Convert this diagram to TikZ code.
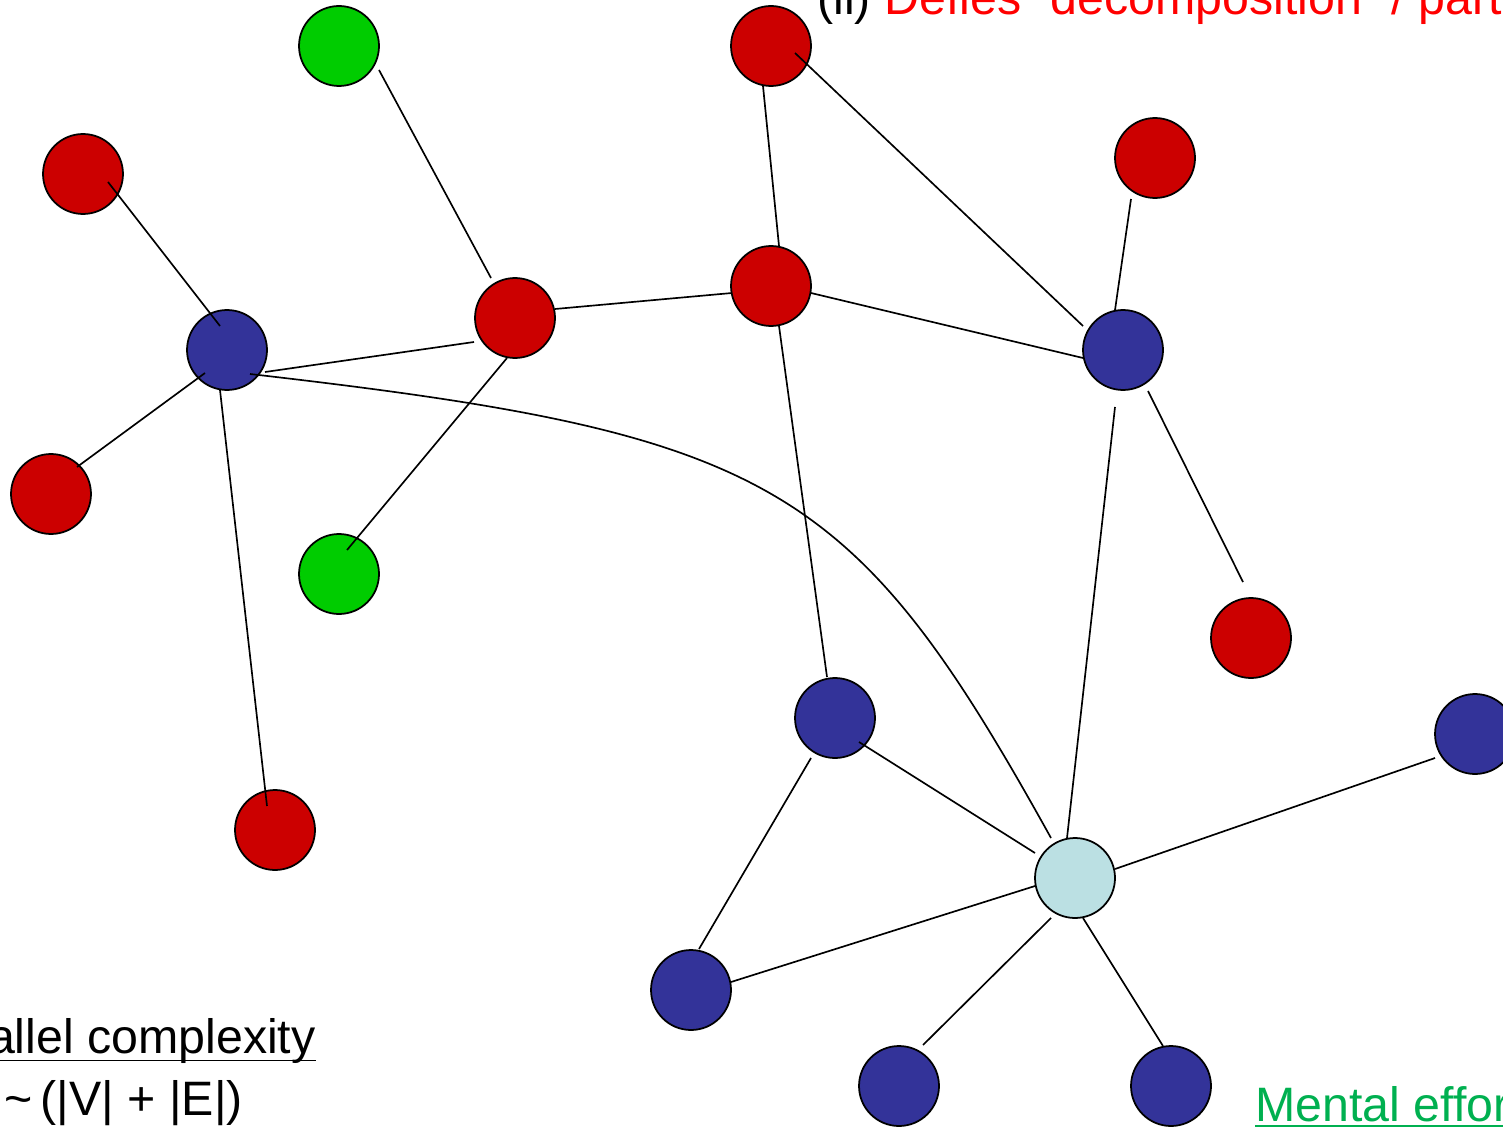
\documentclass[tikz,border=0pt]{standalone}
\usepackage{fontspec}
\setmainfont{Liberation Sans}
\usepackage{tikz}
\usetikzlibrary{positioning}
\definecolor{vx_red}{RGB}{204,0,0}
\definecolor{vx_green}{RGB}{0,204,0}
\definecolor{vx_blue}{RGB}{51,51,153}
\definecolor{vx_light}{RGB}{187,224,227}
\definecolor{txt_red}{RGB}{255,0,0}
\definecolor{txt_green}{RGB}{0,176,80}

\begin{document}
\begin{tikzpicture}[x=0.02cm, y=-0.02cm,
    vx/.style={circle, draw=black, line width=1pt, minimum size=1.6cm, inner sep=0pt},
    red vx/.style={vx, fill=vx_red},
    green vx/.style={vx, fill=vx_green},
    blue vx/.style={vx, fill=vx_blue},
    hub vx/.style={vx, fill=vx_light},
    edge/.style={line width=0.95pt},
    caption/.style={font=\fontsize{27.5}{33}\selectfont, inner sep=0pt}]
        \useasboundingbox (0,0) rectangle (1503,1128);
        \clip (0,0) rectangle (1503,1128);
        % Left cluster
        \node[green vx] (g1) at (339,46) {};
        \node[red vx] (r1) at (83,174) {};
        \node[blue vx] (b1) at (227,350) {};
        \node[red vx] (r2) at (51,494) {};
        \node[green vx] (g2) at (339,574) {};
        \node[red vx] (r3) at (275,830) {};
        \node[red vx] (r4) at (515,318) {};
        % Upper right
        \node[red vx] (r5) at (771,46) {};
        \node[red vx] (r6) at (771,286) {};
        \node[red vx] (r7) at (1155,158) {};
        \node[blue vx] (b2) at (1123,350) {};
        \node[red vx] (r8) at (1251,638) {};
        % Lower right, around the hub
        \node[blue vx] (b3) at (835,718) {};
        \node[blue vx] (b4) at (1475,734) {};
        \node[hub vx] (hub) at (1075,878) {};
        \node[blue vx] (b5) at (691,990) {};
        \node[blue vx] (b6) at (899,1086) {};
        \node[blue vx] (b7) at (1171,1086) {};
        % Edges (hand placed ends, some run into the discs)
        \draw[edge] ([shift={(25,8)}]r1.center) -- ([shift={(-7,-24)}]b1.center);
        \draw[edge] ([shift={(26,-27)}]r2.center) -- ([shift={(-22,23)}]b1.center);
        \draw[edge] ([shift={(-7,40)}]b1.center) -- ([shift={(-8,-24)}]r3.center);
        \draw[edge] ([shift={(38,22)}]b1.center) -- ([shift={(-41,24)}]r4.center);
        \draw[edge] ([shift={(23,24)}]b1.center)
          .. controls (773,434) and (853,481) .. ([shift={(-24,-40)}]hub.center);
        \draw[edge] ([shift={(40,24)}]g1.center) -- ([shift={(-24,-40)}]r4.center);
        \draw[edge] ([shift={(-8,40)}]r4.center) -- ([shift={(8,-24)}]g2.center);
        \draw[edge] ([shift={(40,-9)}]r4.center) -- ([shift={(-39,7)}]r6.center);
        \draw[edge] ([shift={(-8,40)}]r5.center) -- ([shift={(8,-40)}]r6.center);
        \draw[edge] ([shift={(24,7)}]r5.center) -- ([shift={(-40,-24)}]b2.center);
        \draw[edge] ([shift={(40,7)}]r6.center) -- ([shift={(-40,8)}]b2.center);
        \draw[edge] ([shift={(8,40)}]r6.center) -- ([shift={(-8,-41)}]b3.center);
        \draw[edge] ([shift={(-24,41)}]r7.center) -- ([shift={(-8,-40)}]b2.center);
        \draw[edge] ([shift={(25,41)}]b2.center) -- ([shift={(-8,-56)}]r8.center);
        \draw[edge] ([shift={(-8,57)}]b2.center) -- ([shift={(-8,-40)}]hub.center);
        \draw[edge] ([shift={(24,24)}]b3.center) -- ([shift={(-40,-25)}]hub.center);
        \draw[edge] ([shift={(-24,40)}]b3.center) -- ([shift={(8,-41)}]b5.center);
        \draw[edge] ([shift={(-40,24)}]b4.center) -- ([shift={(40,-9)}]hub.center);
        \draw[edge] ([shift={(40,-8)}]b5.center) -- ([shift={(-40,8)}]hub.center);
        \draw[edge] ([shift={(-24,40)}]hub.center) -- ([shift={(24,-41)}]b6.center);
        \draw[edge] ([shift={(8,40)}]hub.center) -- ([shift={(-8,-40)}]b7.center);
        % Slide text, cut by the frame
        \node[caption, anchor=base west] (title) at (817,15)
          {(ii) {\color{txt_red}Defies “decomposition” / partitioning}};
        \node[caption, anchor=base east] (pcx) at (316,1053) {Parallel complexity};
        \draw[line width=1.1pt] ([yshift=-0.15cm]pcx.base west) -- ([yshift=-0.15cm]pcx.base east);
        \node[caption, anchor=base east] (cost) at (243,1115) {= \textasciitilde\,(|V| + |E|)};
        \node[caption, anchor=base west, text=txt_green] (effort) at (1255,1121) {Mental effort};
        \draw[line width=1.1pt, txt_green] ([yshift=-0.1cm]effort.base west) -- ([yshift=-0.1cm]effort.base east);
      \end{tikzpicture}
\end{document}
